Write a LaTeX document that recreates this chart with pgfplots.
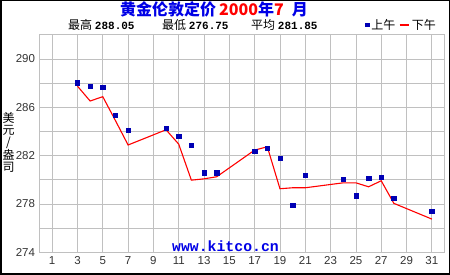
\documentclass[border=0pt]{standalone}
\usepackage{fontspec}
\setmainfont{Liberation Sans}
\newfontfamily\cjk{Noto Sans CJK SC}
\newfontfamily\mono{Liberation Mono}
\usepackage{pgfplots}
\pgfplotsset{compat=1.18}
\definecolor{gridgray}{RGB}{192,192,192}
\definecolor{mkblue}{RGB}{0,0,180}
\definecolor{ttblue}{RGB}{0,0,230}
\definecolor{ticktxt}{RGB}{51,51,51}
\begin{document}
\begin{tikzpicture}
\path[use as bounding box] (0pt,0pt) rectangle (450pt,275pt);
\begin{axis}[
  at={(39.5pt,22.7pt)}, anchor=south west,
  scale only axis, width=405pt, height=217.5pt,
  xmin=0, xmax=32, ymin=274, ymax=292,
  xtick={1,3,...,31},
  ytick={274,278,...,290},
  minor ytick={276,280,...,292},
  grid=both,
  major grid style={gridgray, line width=0.8pt},
  minor grid style={gridgray, line width=0.8pt},
  axis line style={gridgray, line width=0.8pt},
  major tick length=0pt, minor tick length=0pt,
  tick label style={font=\fontsize{11.5}{13}\selectfont, text=ticktxt},
  /pgf/number format/assume math mode=true,
  xticklabel style={yshift=-1pt},
  yticklabel style={xshift=-1pt},
  legend style={at={(1,1)}, anchor=east, xshift=-6.5pt, yshift=10pt,
    draw=none, fill=none, font=\cjk\fontsize{12}{13}\selectfont,
    inner sep=0pt, legend columns=2,
    /tikz/every even column/.append style={column sep=1pt}},
  legend cell align=left,
]
\addplot[only marks, mark=square*, mark size=2.2pt, mkblue, mark options={draw=mkblue, fill=mkblue},
  legend image code/.code={\fill[mkblue] (-1.8pt,-1.8pt) rectangle (1.8pt,1.8pt);}] coordinates {
(3,288.05) (4,287.74) (5,287.65) (6,285.33) (7,284.09)
(10,284.26) (11,283.60) (12,282.85) (13,280.60) (14,280.60)
(17,282.35) (18,282.60) (19,281.77) (20,277.88) (21,280.36)
(24,280.03) (25,278.70) (26,280.14) (27,280.20) (28,278.46)
(31,277.38)};
\addlegendentry{上午}
\addplot[red, line width=1.1pt, mark=none,
  legend image code/.code={\draw[red, line width=2.5pt] (0pt,0pt) -- (9pt,0pt);}] coordinates {
(3,287.75) (4,286.52) (5,286.88) (6,284.90) (7,282.88)
(10,284.14) (11,282.95) (12,279.97) (13,280.08) (14,280.25)
(17,282.46) (18,282.73) (19,279.26) (20,279.34) (21,279.34)
(24,279.75) (25,279.75) (26,279.42) (27,279.92) (28,278.05)
(31,276.75)};
\addlegendentry{下午}
\end{axis}
\draw[black, line width=1.5pt] (0.75pt,0.75pt) rectangle (449.25pt,274.5pt);
% title
\node[anchor=center, inner sep=0pt, font=\cjk\bfseries\fontsize{16}{18}\selectfont] at (214pt,265.5pt)
  {\textcolor{ttblue}{黄金伦敦定价}\hspace{3pt}\textcolor{red}{2000}\textcolor{ttblue}{年}\textcolor{red}{7}\hspace{8pt}\textcolor{ttblue}{月}};
% stats
\node[anchor=west, inner sep=0pt] at (68pt,250pt) {{\cjk\fontsize{12}{13}\selectfont 最高} {\mono\bfseries\fontsize{11}{12}\selectfont 288.05}};
\node[anchor=west, inner sep=0pt] at (162pt,250pt) {{\cjk\fontsize{12}{13}\selectfont 最低} {\mono\bfseries\fontsize{11}{12}\selectfont 276.75}};
\node[anchor=west, inner sep=0pt] at (251pt,250pt) {{\cjk\fontsize{12}{13}\selectfont 平均} {\mono\bfseries\fontsize{11}{12}\selectfont 281.85}};
% y label
\node[align=center, inner sep=0pt, font=\cjk\fontsize{12}{12}\selectfont] at (8.5pt,133pt) {美\\元\\/\\盎\\司};
% watermark
\node[inner sep=0pt, font=\mono\bfseries\fontsize{14.8}{16}\selectfont, text=ttblue] at (225.5pt,29pt) {www.kitco.cn};
\end{tikzpicture}
\end{document}
